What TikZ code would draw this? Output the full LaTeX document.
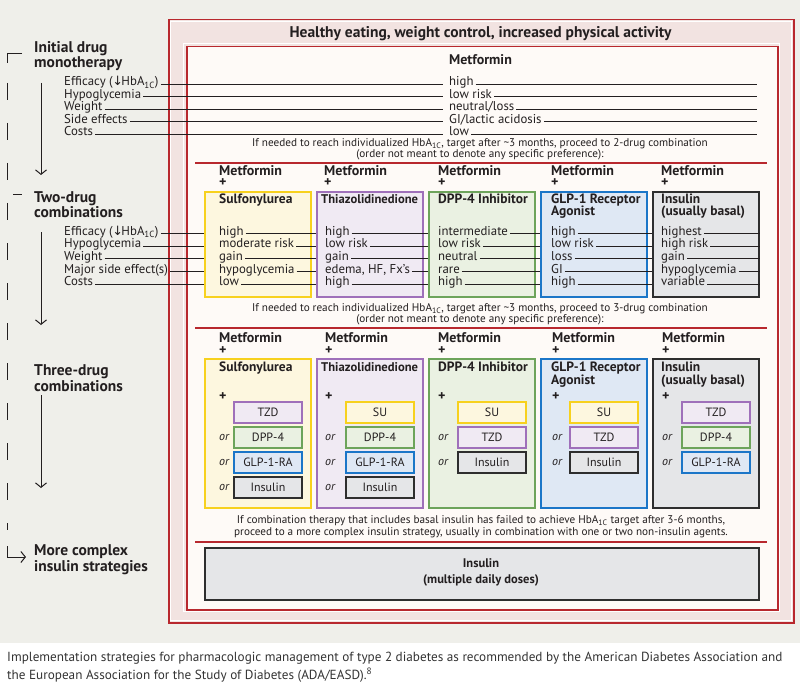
\documentclass[tikz,border=0pt]{standalone}
\usepackage{fontspec}
\setmainfont{PT Sans}
\newfontfamily\arrowfont{DejaVu Sans}
\usetikzlibrary{arrows.meta}
\definecolor{bg}{HTML}{EFEFEA}
\definecolor{pinkband}{HTML}{F2E3E1}
\definecolor{framered}{HTML}{B8282E}
\definecolor{innerfill}{HTML}{FEFAF7}
\definecolor{txt}{HTML}{231F20}
\definecolor{capgrey}{HTML}{333333}
\definecolor{yelborder}{HTML}{F7D11E}
\definecolor{yelfill}{HTML}{FDF7DF}
\definecolor{purborder}{HTML}{9F70BA}
\definecolor{purfill}{HTML}{F0EAF3}
\definecolor{grnborder}{HTML}{6DA45B}
\definecolor{grnfill}{HTML}{EAF1E2}
\definecolor{bluborder}{HTML}{1B76C8}
\definecolor{blufill}{HTML}{DFE8F4}
\definecolor{gryborder}{HTML}{2E2E2E}
\definecolor{gryfill}{HTML}{E5E6E8}
\newcommand{\hbaone}{HbA\textsubscript{1C}}
\newcommand{\dnarr}{{\arrowfont\kern-0.5pt↓\kern-1.5pt}}
\begin{document}
\begin{tikzpicture}[x=1pt,y=-1pt,
  txtbase/.style={inner sep=0pt, text=txt},
  rowtxt/.style={txtbase, inner xsep=2pt, font=\fontsize{12.8}{13}\selectfont, anchor=base west},
  bhead/.style={txtbase, align=left, font={\bfseries\fontsize{13.5}{11.5}\selectfont\lineskiplimit=-20pt}, anchor=base west},
  methead/.style={txtbase, align=left, font={\bfseries\fontsize{14}{12}\selectfont\lineskiplimit=-20pt}, anchor=base west},
  sidehead/.style={txtbase, align=left, font={\bfseries\fontsize{15.5}{15.5}\selectfont\lineskiplimit=-20pt}, anchor=base west},
  notetxt/.style={txtbase, align=center, font={\fontsize{11.2}{11}\selectfont\lineskiplimit=-20pt}, anchor=base},
  captxt/.style={inner sep=0pt, text=capgrey, align=left, font={\fontsize{13.2}{17.3}\selectfont}, anchor=base west},
  rline/.style={draw=txt, line width=0.9pt},
  sepline/.style={draw=framered, line width=1.2pt},
  colbox/.style={draw=#1border, fill=#1fill, line width=1.6pt, minimum width=106pt, inner sep=0pt, anchor=north west},
  subbox/.style={draw=#1border, fill=#1fill, line width=1.5pt, minimum width=68pt, minimum height=21pt, inner sep=0pt, font=\fontsize{12}{13}\selectfont, text=txt},
  ortxt/.style={txtbase, font=\itshape\fontsize{12}{13}\selectfont, anchor=west},
  sideline/.style={draw=txt, line width=1pt},
  sidearrow/.style={sideline, -{Straight Barb[length=4.5pt,width=11pt]}},
]
\useasboundingbox (0,0) rectangle (800,687);
\fill[bg] (0,0) rectangle (800,643);

% frames
\node[draw=framered, fill=pinkband, line width=1.5pt, minimum width=625pt, minimum height=603pt, inner sep=0pt, anchor=north west] (outer) at (168,19) {};
\draw[white, line width=0.8pt] (170,21) rectangle (791,620);
\draw[white, line width=0.8pt] (183.5,43.5) rectangle (779.5,611.5);
\node[draw=framered, fill=innerfill, line width=1.5pt, minimum width=591pt, minimum height=563pt, inner sep=0pt, anchor=north west] (inner) at (186,46) {};
\node[txtbase, font=\bfseries\fontsize{15.5}{16}\selectfont, anchor=base] (title) at (480.5,37.5) {Healthy eating, weight control, increased physical activity};

% left column (multi-line nodes: base = last line)
\node[sidehead] (s1) at (34,68) {Initial drug\\monotherapy};
\node[sidehead] (s2) at (34,218) {Two-drug\\combinations};
\node[sidehead] (s3) at (34,391) {Three-drug\\combinations};
\node[sidehead] (s4) at (34,571) {More complex\\insulin strategies};
\draw[sideline] (22,53.5) -- (7,53.5) -- (7,63);
\draw[sideline, dash pattern=on 17pt off 23pt] (7,83) -- (7,530);
\draw[sideline] (13,195) -- (22,195);
\coordinate (h1) at (7,546);
\coordinate (h2) at (7,557);
\coordinate (h3) at (26,557);
\draw[sidearrow] (h1) -- (h2) -- (h3);
\coordinate (a1s) at (41,83);   \coordinate (a1e) at (41,175);
\coordinate (a2s) at (41,232);  \coordinate (a2e) at (41,325);
\coordinate (a3s) at (41,395);  \coordinate (a3e) at (41,488);
\draw[sidearrow] (a1s) -- (a1e);
\draw[sidearrow] (a2s) -- (a2e);
\draw[sidearrow] (a3s) -- (a3e);

% monotherapy
\node[txtbase, font=\bfseries\fontsize{14}{14}\selectfont, anchor=base] (mmet) at (480.5,65) {Metformin};
\coordinate (mL) at (443,0);
\coordinate (mR) at (757,0);
\foreach \t [count=\i] in {Efficacy (\dnarr\hbaone), Hypoglycemia, Weight, Side effects, Costs}
  \node[rowtxt] (ml-\i) at (62,{85.8+12.5*(\i-1)}) {\t};
\foreach \t [count=\i] in {high, low risk, neutral/loss, GI/lactic acidosis, low}
  \node[rowtxt] (mv-\i) at (447,{85.8+12.5*(\i-1)}) {\t};
\foreach \i in {1,...,5} {
  \draw[rline] ([yshift=1.5pt]ml-\i.base east) -- ([yshift=1.5pt]ml-\i.base east -| mL);
  \draw[rline] ([yshift=1.5pt]mv-\i.base east) -- ([yshift=1.5pt]mv-\i.base east -| mR);
}
\node[notetxt] (n1) at (480,157.5) {If needed to reach individualized \hbaone, target after \textasciitilde3 months, proceed to 2-drug combination\\(order not meant to denote any specific preference):};
\coordinate (sp1a) at (195,163); \coordinate (sp1b) at (767,163);
\draw[sepline] (sp1a) -- (sp1b);

% two-drug combinations
\foreach \j/\bx/\tx/\c in {1/204/219/yel, 2/316/324/pur, 3/428/438/grn, 4/540/551/blu, 5/652/661/gry} {
  \node[colbox=\c, minimum height=105pt] (tb\j) at (\bx,191) {};
  \node[methead] (tm\j) at (\tx,187) {Metformin\\+};
}
\node[bhead] (tt1) at (219,204) {Sulfonylurea};
\node[bhead, font=\bfseries\fontsize{12.6}{13}\selectfont] (tt2) at (321,204) {Thiazolidinedione};
\node[bhead] (tt3) at (438,204) {DPP-4 Inhibitor};
\node[bhead] (tt4) at (551,215) {GLP-1 Receptor\\Agonist};
\node[bhead] (tt5) at (661,215) {Insulin\\(usually basal)};
\foreach \t [count=\i] in {Efficacy (\dnarr\hbaone), Hypoglycemia, Weight, Major side effect(s), Costs}
  \node[rowtxt] (tl-\i) at (62,{235+12.7*(\i-1)}) {\t};
\foreach \t [count=\i] in {high, moderate risk, gain, hypoglycemia, low}
  \node[rowtxt] (tv1-\i) at (217,{235+12.7*(\i-1)}) {\t};
\foreach \t [count=\i] in {high, low risk, gain, {edema, HF, Fx’s}, high}
  \node[rowtxt] (tv2-\i) at (323,{235+12.7*(\i-1)}) {\t};
\foreach \t [count=\i] in {intermediate, low risk, neutral, rare, high}
  \node[rowtxt] (tv3-\i) at (436,{235+12.7*(\i-1)}) {\t};
\foreach \t [count=\i] in {high, low risk, loss, GI, high}
  \node[rowtxt] (tv4-\i) at (549,{235+12.7*(\i-1)}) {\t};
\foreach \t [count=\i] in {highest, high risk, gain, hypoglycemia, variable}
  \node[rowtxt] (tv5-\i) at (659,{235+12.7*(\i-1)}) {\t};
\foreach \i in {1,...,5} {
  \draw[rline] ([yshift=1.5pt]tl-\i.base east) -- ([yshift=1.5pt]tl-\i.base east -| tb1.west);
  \draw[rline] ([yshift=1.5pt]tv1-\i.base east) -- ([yshift=1.5pt]tv1-\i.base east -| tb2.west);
  \draw[rline] ([yshift=1.5pt]tv2-\i.base east) -- ([yshift=1.5pt]tv2-\i.base east -| tb3.west);
  \draw[rline] ([yshift=1.5pt]tv3-\i.base east) -- ([yshift=1.5pt]tv3-\i.base east -| tb4.west);
  \draw[rline] ([yshift=1.5pt]tv4-\i.base east) -- ([yshift=1.5pt]tv4-\i.base east -| tb5.west);
  \draw[rline] ([yshift=1.5pt]tv5-\i.base east) -- ([yshift=1.5pt]tv5-\i.base east -| tb5.east);
}
\node[notetxt] (n2) at (480,322.5) {If needed to reach individualized \hbaone, target after \textasciitilde3 months, proceed to 3-drug combination\\(order not meant to denote any specific preference):};
\coordinate (sp2a) at (195,328); \coordinate (sp2b) at (767,328);
\draw[sepline] (sp2a) -- (sp2b);

% three-drug combinations
\foreach \j/\bx/\tx/\c in {1/204/219/yel, 2/316/325/pur, 3/428/438/grn, 4/540/552/blu, 5/652/662/gry} {
  \node[colbox=\c, minimum height=149pt] (rb\j) at (\bx,358) {};
  \node[methead] (rm\j) at (\tx,354) {Metformin\\+};
  \node[methead] (rq\j) at (\tx,400) {+};
}
\node[bhead] (rt1) at (219,371.7) {Sulfonylurea};
\node[bhead, font=\bfseries\fontsize{12.6}{13}\selectfont] (rt2) at (321,371.7) {Thiazolidinedione};
\node[bhead] (rt3) at (438,371.7) {DPP-4 Inhibitor};
\node[bhead, font={\bfseries\fontsize{13.5}{12.3}\selectfont\lineskiplimit=-20pt}] (rt4) at (551,384) {GLP-1 Receptor\\Agonist};
\node[bhead, font={\bfseries\fontsize{13.5}{12.3}\selectfont\lineskiplimit=-20pt}] (rt5) at (661,384) {Insulin\\(usually basal)};
\foreach \t/\c [count=\k] in {TZD/pur, DPP-4/grn, GLP-1-RA/blu, Insulin/gry}
  \node[subbox=\c] (s1-\k) at (268,{412.5+25*(\k-1)}) {\t};
\foreach \t/\c [count=\k] in {SU/yel, DPP-4/grn, GLP-1-RA/blu, Insulin/gry}
  \node[subbox=\c] (s2-\k) at (380,{412.5+25*(\k-1)}) {\t};
\foreach \t/\c [count=\k] in {SU/yel, TZD/pur, Insulin/gry}
  \node[subbox=\c] (s3-\k) at (492,{412.5+25*(\k-1)}) {\t};
\foreach \t/\c [count=\k] in {SU/yel, TZD/pur, Insulin/gry}
  \node[subbox=\c] (s4-\k) at (604,{412.5+25*(\k-1)}) {\t};
\foreach \t/\c [count=\k] in {TZD/pur, DPP-4/grn, GLP-1-RA/blu}
  \node[subbox=\c] (s5-\k) at (716,{412.5+25*(\k-1)}) {\t};
\foreach \k in {2,3,4} {
  \node[ortxt] (o1-\k) at (219,{412.5+25*(\k-1)}) {or};
  \node[ortxt] (o2-\k) at (325,{412.5+25*(\k-1)}) {or};
}
\foreach \k in {2,3} {
  \node[ortxt] (o3-\k) at (438,{412.5+25*(\k-1)}) {or};
  \node[ortxt] (o4-\k) at (552,{412.5+25*(\k-1)}) {or};
  \node[ortxt] (o5-\k) at (662,{412.5+25*(\k-1)}) {or};
}
\node[notetxt, font={\fontsize{11.2}{11.7}\selectfont\lineskiplimit=-20pt}] (n3) at (481,535) {If combination therapy that includes basal insulin has failed to achieve \hbaone\ target after 3-6 months,\\proceed to a more complex insulin strategy, usually in combination with one or two non-insulin agents.};
\coordinate (sp3a) at (195,542); \coordinate (sp3b) at (767,542);
\draw[sepline] (sp3a) -- (sp3b);

% complex insulin
\node[colbox=gry, minimum width=554pt, minimum height=52pt] (ib) at (204,547) {};
\node[txtbase, align=center, font={\bfseries\fontsize{12.5}{15.3}\selectfont}, anchor=base] (ibt) at (481,583) {Insulin\\(multiple daily doses)};

% caption
\node[captxt] (cap) at (7,679) {Implementation strategies for pharmacologic management of type 2 diabetes as recommended by the American Diabetes Association and\\the European Association for the Study of Diabetes (ADA/EASD).\textsuperscript{8}};
\end{tikzpicture}
\end{document}
